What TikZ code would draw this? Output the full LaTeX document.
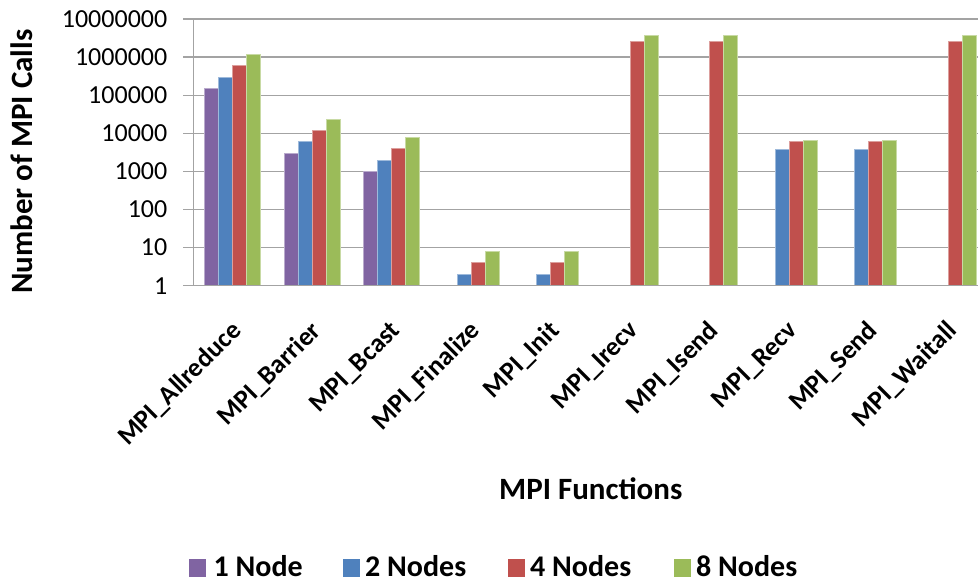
\documentclass[tikz,border=0pt]{standalone}
\usepackage{fontspec}
\setmainfont{Carlito}
\definecolor{serA}{HTML}{8064A2}
\definecolor{serB}{HTML}{4F81BD}
\definecolor{serC}{HTML}{C0504D}
\definecolor{serD}{HTML}{9BBB59}
\definecolor{gridc}{HTML}{A3A3A3}
\newcommand\mybar[4]{% #1 category, #2 series offset (0..3), #3 colour, #4 log10 value
  \pgfmathsetmacro\xl{192.8+79.5*(#1-0.5)-28+14*#2}
  \pgfmathsetmacro\xr{\xl+14}
  \pgfmathsetmacro\yt{285.7-38.1*#4}
  \draw[barstyle, fill=#3, draw=#3!55!white] (\xl,285.7) rectangle (\xr,\yt);}
\begin{document}
\begin{tikzpicture}[x=1pt,y=-1pt,
  gridline/.style={gridc, line width=1.3pt},
  barstyle/.style={line width=0.6pt},
  ticklab/.style={anchor=east, inner sep=0pt, font=\fontsize{26}{30}\selectfont},
  catlab/.style={anchor=east, rotate=45, inner sep=0pt, font=\bfseries\fontsize{26.5}{30}\selectfont},
  axtitle/.style={inner sep=0pt, font=\bfseries\fontsize{31}{36}\selectfont},
  legsq/.style={minimum width=16.5pt, minimum height=18pt, inner sep=0pt, draw=none},
  legtxt/.style={anchor=base west, inner sep=0pt, font=\bfseries\fontsize{30}{34}\selectfont}]
\useasboundingbox[fill=white] (0,0) rectangle (978,582);
% gridlines and tick marks
\foreach \k in {0,...,7}{
  \draw[gridline] (183,285.7-38.1*\k) -- (978,285.7-38.1*\k);
}
% y tick labels
\foreach \k/\lab in {0/1,1/10,2/100,3/1000,4/10000,5/100000,6/1000000,7/10000000}{
  \node[ticklab] (yt\k) at (167.5,285.7-38.1*\k) {\lab};
}
% bars
\mybar{1}{0}{serA}{5.176}\mybar{1}{1}{serB}{5.477}\mybar{1}{2}{serC}{5.778}\mybar{1}{3}{serD}{6.079}
\mybar{2}{0}{serA}{3.477}\mybar{2}{1}{serB}{3.778}\mybar{2}{2}{serC}{4.079}\mybar{2}{3}{serD}{4.380}
\mybar{3}{0}{serA}{3.000}\mybar{3}{1}{serB}{3.301}\mybar{3}{2}{serC}{3.602}\mybar{3}{3}{serD}{3.903}
\mybar{4}{1}{serB}{0.301}\mybar{4}{2}{serC}{0.602}\mybar{4}{3}{serD}{0.903}
\mybar{5}{1}{serB}{0.301}\mybar{5}{2}{serC}{0.602}\mybar{5}{3}{serD}{0.903}
\mybar{6}{2}{serC}{6.41}\mybar{6}{3}{serD}{6.58}
\mybar{7}{2}{serC}{6.41}\mybar{7}{3}{serD}{6.58}
\mybar{8}{1}{serB}{3.58}\mybar{8}{2}{serC}{3.78}\mybar{8}{3}{serD}{3.816}
\mybar{9}{1}{serB}{3.58}\mybar{9}{2}{serC}{3.78}\mybar{9}{3}{serD}{3.816}
\mybar{10}{2}{serC}{6.41}\mybar{10}{3}{serD}{6.58}
% axes
\draw[gridline] (193.3,19) -- (193.3,285.7);
\draw[gridline] (183,285.7) -- (978,285.7);
% category labels
\foreach \i/\lab in {1/Allreduce,2/Barrier,3/Bcast,4/Finalize,5/Init,6/Irecv,7/Isend,8/Recv,9/Send,10/Waitall}{
  \node[catlab] (cat\i) at ({192.8+79.5*(\i-0.5)+5},327) {MPI\_\lab};
}
% axis titles
\node[axtitle, rotate=90] (ytitle) at (21.5,161.5) {Number of MPI Calls};
\node[axtitle, anchor=base west] (xtitle) at (499,499) {MPI Functions};
% legend
\node[legsq, fill=serA] (s1) at (197.6,567.5) {};
\node[legtxt] (t1) at (213.5,576.7) {1 Node};
\node[legsq, fill=serB] (s2) at (351.5,567.5) {};
\node[legtxt] (t2) at (365,576.7) {2 Nodes};
\node[legsq, fill=serC] (s3) at (516.5,567.5) {};
\node[legtxt] (t3) at (530,576.7) {4 Nodes};
\node[legsq, fill=serD] (s4) at (682.5,567.5) {};
\node[legtxt] (t4) at (696,576.7) {8 Nodes};
\end{tikzpicture}
\end{document}
